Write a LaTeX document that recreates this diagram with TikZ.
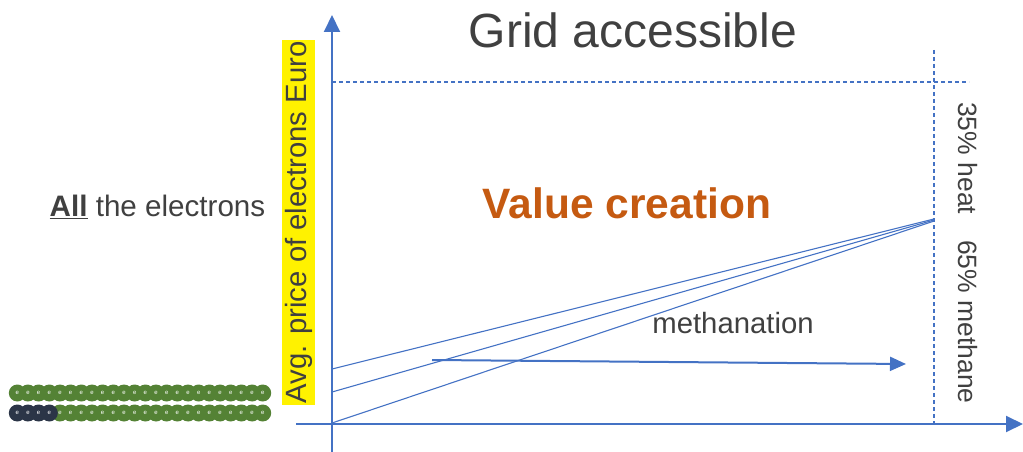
\documentclass[tikz,border=0pt]{standalone}
\usepackage{fontspec}
\setmainfont{Liberation Sans}
\usetikzlibrary{arrows.meta}
\definecolor{axisblue}{HTML}{4472C4}
\definecolor{textgray}{HTML}{404040}
\definecolor{valueorange}{HTML}{C55A11}
\definecolor{egreen}{HTML}{548235}
\definecolor{enavy}{HTML}{2B3547}
\newcommand{\fs}[1]{\fontsize{#1}{#1}\selectfont}
\tikzset{
  axisline/.style={draw=axisblue, line width=2pt, -{Triangle[length=17pt,width=16pt]}},
  guide/.style={draw=axisblue, line width=1.2pt, dash pattern=on 4pt off 3pt},
  trend/.style={draw=axisblue, line width=1.1pt},
  shiftarrow/.style={draw=axisblue, line width=2pt, -{Triangle[length=16pt,width=14pt]}},
  label/.style={text=textgray, inner sep=0pt},
  electron/.style={circle, minimum size=17pt, inner sep=0pt, text=white, font=\fs{6}},
}
\begin{document}
\begin{tikzpicture}[x=1pt, y=-1pt]
\useasboundingbox (0,0) rectangle (1023,452);

% axes
\coordinate (ybot) at (332,452);
\coordinate (ytop) at (332,15);
\coordinate (xleft) at (296,424);
\coordinate (xright) at (1023,424);
\draw[axisline] (ybot) -- (ytop);
\draw[axisline] (xleft) -- (xright);

% dashed guides
\coordinate (hl) at (332,82);
\coordinate (hr) at (969,82);
\coordinate (vt) at (934,50);
\coordinate (vb) at (934,424);
\draw[guide] (hl) -- (hr);
\draw[guide] (vt) -- (vb);

% converging price lines
\coordinate (s1) at (332,369);
\coordinate (s2) at (332,392);
\coordinate (s3) at (332,423);
\coordinate (m1) at (934,219);
\coordinate (m2) at (934,220);
\coordinate (m3) at (934,221);
\draw[trend] (s1) -- (m1);
\draw[trend] (s2) -- (m2);
\draw[trend] (s3) -- (m3);

% methanation shift
\coordinate (ma) at (432,360);
\coordinate (mb) at (906,364);
\draw[shiftarrow] (ma) -- (mb);

% texts
\node[label, font=\fs{48}] (title) at (633,30) {Grid accessible};
\node[label, text=valueorange, font=\bfseries\fs{42.5}] (value) at (627,203) {Value creation};
\node[label, font=\fs{29.3}] (meth) at (733,323) {methanation};
\node[label, font=\fs{29.6}] (all) at (157.5,207) {\underline{\textbf{All}} the electrons};
\node[label, font=\fs{29.3}, rotate=90, fill=yellow, minimum height=33pt, inner xsep=1pt] (ylab) at (298.5,222.5) {Avg. price of electrons Euro};
\node[label, font=\fs{26.5}, rotate=-90] (split) at (968,253) {35\% heat\hspace{26pt}65\% methane};

% electrons
\foreach \i in {0,...,23} {
  \node[electron, fill=egreen] (ea\i) at ({17.3+10.67*\i},393) {e};
}
\foreach \i in {4,...,23} {
  \node[electron, fill=egreen] (eb\i) at ({17.3+10.67*\i},413) {e};
}
\foreach \i in {0,...,3} {
  \node[electron, fill=enavy] (eb\i) at ({17.3+10.67*\i},413) {e};
}
\end{tikzpicture}
\end{document}
